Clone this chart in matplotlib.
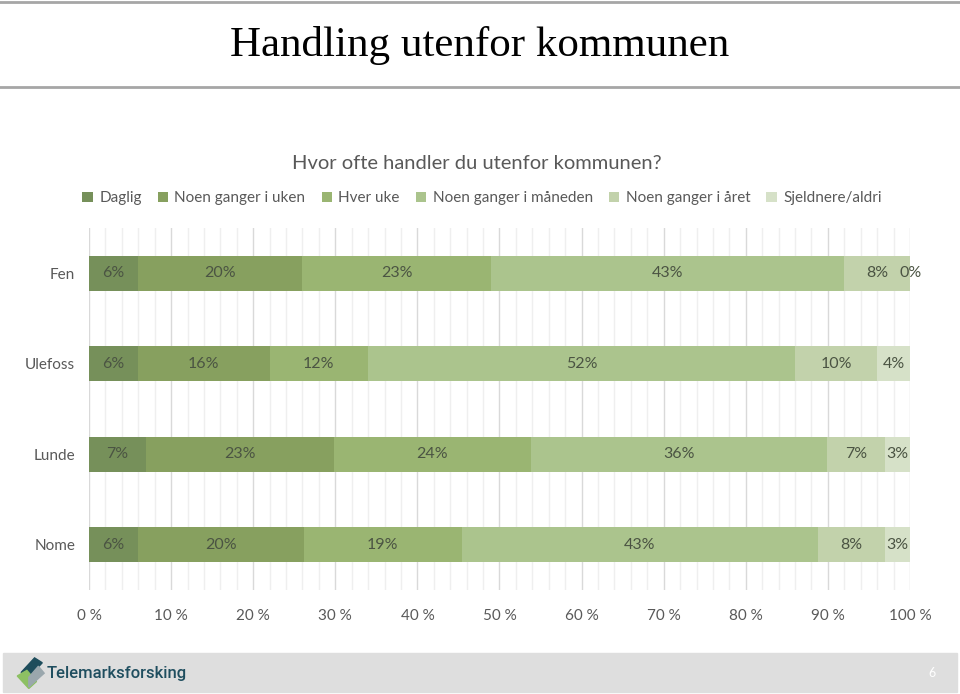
import numpy as np
import matplotlib
matplotlib.use('Agg')
from matplotlib import pyplot as plt
from matplotlib.patches import Rectangle, Polygon
from matplotlib.ticker import MultipleLocator

########################################################################## data
places = ['Fen', 'Ulefoss', 'Lunde', 'Nome']
series = ['Daglig', 'Noen ganger i uken', 'Hver uke', 'Noen ganger i måneden',
          'Noen ganger i året', 'Sjeldnere/aldri']
daglig = [6.0, 6.0, 6.9, 6.0]
uken = [20.0, 16.0, 22.9, 20.2]
hver_uke = [23.0, 12.0, 24.0, 19.2]
maaneden = [43.0, 52.0, 36.1, 43.4]
aaret = [8.0, 10.0, 7.1, 8.2]
sjeldnere = [0.0, 4.0, 3.0, 3.0]
labels = [
    ['6%', '20%', '23%', '43%', '8%', '0%'],
    ['6%', '16%', '12%', '52%', '10%', '4%'],
    ['7%', '23%', '24%', '36%', '7%', '3%'],
    ['6%', '20%', '19%', '43%', '8%', '3%'],
]
colors = ['#76905a', '#87a05f', '#9ab572', '#abc48d', '#c2d2ab', '#d6e1c8']

########################################################################## figure
plt.rcParams['font.family'] = ['Lato', 'DejaVu Sans']
fig = plt.figure(figsize=(9.6, 6.94), dpi=100)

# header lines + title
fig.add_artist(plt.Line2D([0, 1], [0.997, 0.997], color='#a6a6a6', lw=2))
fig.add_artist(plt.Line2D([0, 1], [0.874, 0.874], color='#a6a6a6', lw=2))
fig.text(0.5, 0.935, 'Handling utenfor kommunen', ha='center', va='center',
         fontsize=31, family='Liberation Serif', color='black')

fig.text(0.497, 0.765, 'Hvor ofte handler du utenfor kommunen?', ha='center',
         va='center', fontsize=14.5, color='#595959')

ax = fig.add_axes([0.0927, 0.1499, 0.8552, 0.5216])
data = [daglig, uken, hver_uke, maaneden, aaret, sjeldnere]
y = np.arange(len(places))
left = np.zeros(len(places))
for i, vals in enumerate(data):
    vals = np.array(vals)
    ax.barh(y, vals, left=left, height=0.39, color=colors[i], label=series[i], zorder=3)
    for j in range(len(places)):
        if labels[j][i] == '0%':
            xpos = left[j] + vals[j] + 0.1
        else:
            xpos = left[j] + vals[j] / 2
        ax.text(xpos, y[j], labels[j][i], ha='center', va='center',
                fontsize=11.5, color='#4b5443', zorder=4)
    left += vals

ax.set_xlim(0, 100)
ax.set_ylim(3.5, -0.5)
ax.set_yticks(y)
ax.set_yticklabels(places)
ax.xaxis.set_major_locator(MultipleLocator(10))
ax.xaxis.set_minor_locator(MultipleLocator(2))
ax.set_xticks(np.arange(0, 101, 10))
ax.set_xticklabels(['%d %%' % v for v in range(0, 101, 10)])
ax.grid(axis='x', which='major', color='#d9d9d9', lw=1, zorder=0)
ax.grid(axis='x', which='minor', color='#efefef', lw=1, zorder=0)
ax.tick_params(axis='both', which='both', length=0, colors='#595959', labelsize=11)
ax.tick_params(axis='x', pad=14)
ax.tick_params(axis='y', pad=10)
for s in ax.spines.values():
    s.set_visible(False)

fig.legend(*ax.get_legend_handles_labels(), loc='center', bbox_to_anchor=(0.502, 0.714),
           ncol=6, frameon=False, fontsize=11, handlelength=0.7, handleheight=0.7,
           handletextpad=0.4, columnspacing=1.05, labelcolor='#595959')

# footer band
fig.add_artist(Rectangle((0.003, 0.003), 0.994, 0.056, transform=fig.transFigure,
                         color='#dedede', zorder=0))
fig.add_artist(Polygon([(0.022, 0.031), (0.036, 0.052), (0.044, 0.045), (0.030, 0.024)],
                       closed=True, transform=fig.transFigure, color='#1e4d5c'))
fig.add_artist(Polygon([(0.018, 0.026), (0.030, 0.008), (0.038, 0.018), (0.028, 0.034)],
                       closed=True, transform=fig.transFigure, color='#8dc063'))
fig.add_artist(Polygon([(0.030, 0.010), (0.046, 0.030), (0.040, 0.040), (0.030, 0.024)],
                       closed=True, transform=fig.transFigure, color='#9aa7ad'))
fig.text(0.049, 0.030, 'Telemarksforsking', ha='left', va='center', fontsize=12,
         color='#1f4e5f', family='Roboto', weight='medium')
fig.text(0.971, 0.030, '6', ha='center', va='center', fontsize=9, color='white')

fig.savefig('out.png', dpi=100)
